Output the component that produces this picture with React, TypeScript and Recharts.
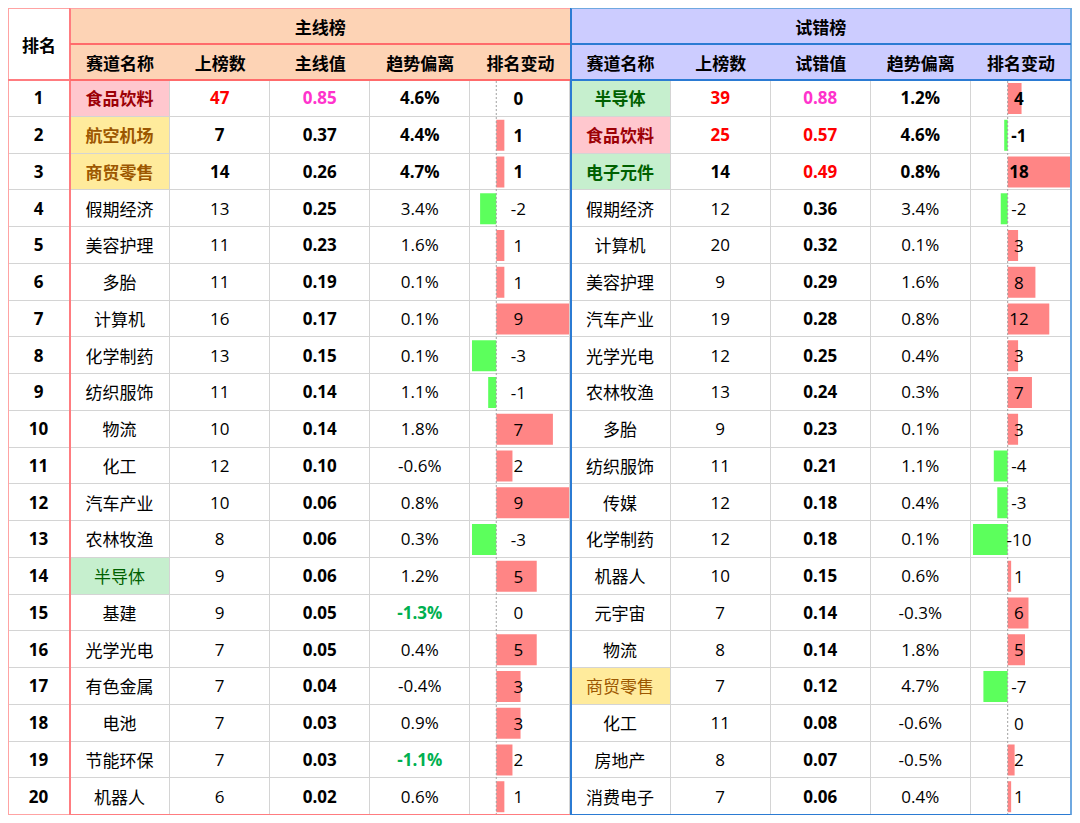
import React from "react";
import { BarChart, Bar, XAxis, YAxis, Cell, ReferenceLine } from "recharts";

// rank column + two boards (main line / trial), 20 rows each
const ranks = [1, 2, 3, 4, 5, 6, 7, 8, 9, 10, 11, 12, 13, 14, 15, 16, 17, 18, 19, 20];

const mainNames = ["食品饮料", "航空机场", "商贸零售", "假期经济", "美容护理", "多胎", "计算机", "化学制药", "纺织服饰", "物流", "化工", "汽车产业", "农林牧渔", "半导体", "基建", "光学光电", "有色金属", "电池", "节能环保", "机器人"];
const mainCounts = [47, 7, 14, 13, 11, 11, 16, 13, 11, 10, 12, 10, 8, 9, 9, 7, 7, 7, 7, 6];
const mainValues = [0.85, 0.37, 0.26, 0.25, 0.23, 0.19, 0.17, 0.15, 0.14, 0.14, 0.1, 0.06, 0.06, 0.06, 0.05, 0.05, 0.04, 0.03, 0.03, 0.02];
const mainTrend = [4.6, 4.4, 4.7, 3.4, 1.6, 0.1, 0.1, 0.1, 1.1, 1.8, -0.6, 0.8, 0.3, 1.2, -1.3, 0.4, -0.4, 0.9, -1.1, 0.6];
const mainChange = [0, 1, 1, -2, 1, 1, 9, -3, -1, 7, 2, 9, -3, 5, 0, 5, 3, 3, 2, 1];

const trialNames = ["半导体", "食品饮料", "电子元件", "假期经济", "计算机", "美容护理", "汽车产业", "光学光电", "农林牧渔", "多胎", "纺织服饰", "传媒", "化学制药", "机器人", "元宇宙", "物流", "商贸零售", "化工", "房地产", "消费电子"];
const trialCounts = [39, 25, 14, 12, 20, 9, 19, 12, 13, 9, 11, 12, 12, 10, 7, 8, 7, 11, 8, 7];
const trialValues = [0.88, 0.57, 0.49, 0.36, 0.32, 0.29, 0.28, 0.25, 0.24, 0.23, 0.21, 0.18, 0.18, 0.15, 0.14, 0.14, 0.12, 0.08, 0.07, 0.06];
const trialTrend = [1.2, 4.6, 0.8, 3.4, 0.1, 1.6, 0.8, 0.4, 0.3, 0.1, 1.1, 0.4, 0.1, 0.6, -0.3, 1.8, 4.7, -0.6, -0.5, 0.4];
const trialChange = [4, -1, 18, -2, 3, 8, 12, 3, 7, 3, -4, -3, -10, 1, 6, 5, -7, 0, 2, 1];

const subHeaders = ["赛道名称", "上榜数", "主线值", "趋势偏离", "排名变动"];
const trialSubHeaders = ["赛道名称", "上榜数", "试错值", "趋势偏离", "排名变动"];

// layout
const RANK_W = 62;
const COL_W = 100.1;
const HEAD_H = 36;
const ROW_H = 36.75;
const TOP = HEAD_H * 2;
const FONT = '"Open Sans", "Noto Sans CJK SC", sans-serif';
const GRID = "1px solid #D4D4D4";

// Excel-ish highlight styles for sector names
const HIGHLIGHT: Record<string, { bg: string; fg: string }> = {
  食品饮料: { bg: "#FFC7CE", fg: "#9C0006" },
  航空机场: { bg: "#FFEB9C", fg: "#9C5700" },
  商贸零售: { bg: "#FFEB9C", fg: "#9C5700" },
  半导体: { bg: "#C6EFCE", fg: "#006100" },
  电子元件: { bg: "#C6EFCE", fg: "#006100" },
};

const POS = "#FF8585";
const NEG = "#5CFF5C";

const colX = (i: number) => RANK_W + i * COL_W;
const rowY = (r: number) => TOP + r * ROW_H;

function Box(props: {
  x: number; y: number; w: number; h: number;
  bg?: string; color?: string; bold?: boolean; border?: boolean; children?: React.ReactNode;
}) {
  const { x, y, w, h, bg, color, bold, border = true, children } = props;
  return (
    <div
      style={{
        position: "absolute",
        left: x,
        top: y,
        width: w,
        height: h,
        boxSizing: "border-box",
        background: bg,
        color: color ?? "#000",
        fontWeight: bold ? 700 : 400,
        borderRight: border ? GRID : undefined,
        borderBottom: border ? GRID : undefined,
        display: "flex",
        alignItems: "center",
        justifyContent: "center",
        fontSize: 17,
        whiteSpace: "nowrap",
      }}
    >
      {children}
    </div>
  );
}

function ChangeBars({ x, changes }: { x: number; changes: number[] }) {
  const data = ranks.map((r, i) => ({ rank: r, change: changes[i] }));
  const lo = Math.min(...changes);
  const hi = Math.max(...changes);
  return (
    <div style={{ position: "absolute", left: x, top: TOP, width: COL_W, height: ROW_H * 20 }}>
      <BarChart
        width={COL_W}
        height={ROW_H * 20}
        data={data}
        layout="vertical"
        margin={{ top: 0, right: 1, bottom: 0, left: 2 }}
        barSize={31}
      >
        <XAxis type="number" domain={[lo, hi]} hide />
        <YAxis type="category" dataKey="rank" hide />
        <ReferenceLine x={0} stroke="#A0A0A0" strokeDasharray="2 2" />
        <Bar dataKey="change" isAnimationActive={false}>
          {data.map((d) => (
            <Cell key={d.rank} fill={d.change >= 0 ? POS : NEG} />
          ))}
        </Bar>
      </BarChart>
    </div>
  );
}

function Board(props: {
  start: number; names: string[]; counts: number[]; values: number[];
  trend: number[]; change: number[]; headers: string[];
}) {
  const { start, names, counts, values, trend, change, headers } = props;
  const cells: React.ReactNode[] = [];
  headers.forEach((h, c) => {
    cells.push(
      <Box key={`h${c}`} x={colX(start + c)} y={HEAD_H} w={COL_W} h={HEAD_H} bold border={false}>
        {h}
      </Box>
    );
  });
  ranks.forEach((_, r) => {
    const top3 = r < 3;
    const y = rowY(r);
    const hl = HIGHLIGHT[names[r]];
    const shade = hl && (top3 || r === 13 || r === 16) ? hl : undefined;
    const cnt = counts[r];
    const val = values[r];
    const tr = trend[r];
    const valColor = val >= 0.8 ? "#FF33CC" : val >= 0.4 ? "#FF0000" : "#000";
    const trGreen = tr <= -1;
    cells.push(
      <Box key={`n${r}`} x={colX(start)} y={y} w={COL_W} h={ROW_H} bg={shade?.bg} color={shade?.fg} bold={top3}>
        {names[r]}
      </Box>,
      <Box key={`c${r}`} x={colX(start + 1)} y={y} w={COL_W} h={ROW_H} color={cnt > 20 ? "#FF0000" : "#000"} bold={top3}>
        {cnt}
      </Box>,
      <Box key={`v${r}`} x={colX(start + 2)} y={y} w={COL_W} h={ROW_H} color={valColor} bold>
        {val.toFixed(2)}
      </Box>,
      <Box key={`t${r}`} x={colX(start + 3)} y={y} w={COL_W} h={ROW_H} color={trGreen ? "#00B050" : "#000"} bold={top3 || trGreen}>
        {tr.toFixed(1)}%
      </Box>,
      <Box key={`g${r}`} x={colX(start + 4)} y={y} w={COL_W} h={ROW_H} />
    );
  });
  const labels = ranks.map((_, r) => (
    <Box key={`l${r}`} x={colX(start + 4) - 2} y={rowY(r)} w={COL_W} h={ROW_H} bold={r < 3} border={false}>
      {change[r]}
    </Box>
  ));
  return (
    <>
      {cells}
      <ChangeBars x={colX(start + 4)} changes={change} />
      {labels}
    </>
  );
}

export default function App() {
  const W = RANK_W + COL_W * 10;
  const H = TOP + ROW_H * 20;
  const mainX = colX(0);
  const trialX = colX(5);
  return (
    <div style={{ position: "relative", width: W, height: H, fontFamily: FONT, background: "#fff" }}>
      {/* header bands */}
      <div style={{ position: "absolute", left: mainX, top: 0, width: COL_W * 5, height: TOP, background: "#FDD3B5" }} />
      <div style={{ position: "absolute", left: trialX, top: 0, width: COL_W * 5, height: TOP, background: "#CCCCFF" }} />
      <Box x={mainX} y={0} w={COL_W * 5} h={HEAD_H} bold border={false}>主线榜</Box>
      <Box x={trialX} y={0} w={COL_W * 5} h={HEAD_H} bold border={false}>试错榜</Box>
      <Box x={0} y={0} w={RANK_W} h={TOP} bold border={false}>排名</Box>

      {ranks.map((r, i) => (
        <Box key={`r${r}`} x={0} y={rowY(i)} w={RANK_W} h={ROW_H} bold>
          {r}
        </Box>
      ))}

      <Board start={0} names={mainNames} counts={mainCounts} values={mainValues} trend={mainTrend} change={mainChange} headers={subHeaders} />
      <Board start={5} names={trialNames} counts={trialCounts} values={trialValues} trend={trialTrend} change={trialChange} headers={trialSubHeaders} />

      {/* section borders */}
      <div style={{ position: "absolute", left: -1, top: -1, width: RANK_W + 2, height: H + 2, boxSizing: "border-box", border: "2px solid #FFA3A3" }} />
      <div style={{ position: "absolute", left: 0, top: TOP - 1, width: RANK_W, height: 2, background: "#FF7C80" }} />
      <div style={{ position: "absolute", left: mainX - 1, top: -1, width: COL_W * 5 + 2, height: H + 2, boxSizing: "border-box", border: "2px solid #FF7C80", borderTopColor: "#FFA3A3" }} />
      <div style={{ position: "absolute", left: mainX, top: HEAD_H - 1, width: COL_W * 5, height: 2, background: "#FF6B6B" }} />
      <div style={{ position: "absolute", left: mainX, top: TOP - 1, width: COL_W * 5, height: 2, background: "#FF6B6B" }} />
      <div style={{ position: "absolute", left: trialX - 1, top: -1, width: COL_W * 5 + 2, height: H + 2, boxSizing: "border-box", border: "2px solid #2B7BD3", borderTopColor: "#6FA8E0", borderRightColor: "#6FA8E0" }} />
      <div style={{ position: "absolute", left: trialX, top: HEAD_H - 1, width: COL_W * 5, height: 2, background: "#2B7BD3" }} />
      <div style={{ position: "absolute", left: trialX, top: TOP - 1, width: COL_W * 5, height: 2, background: "#2B7BD3" }} />
    </div>
  );
}
